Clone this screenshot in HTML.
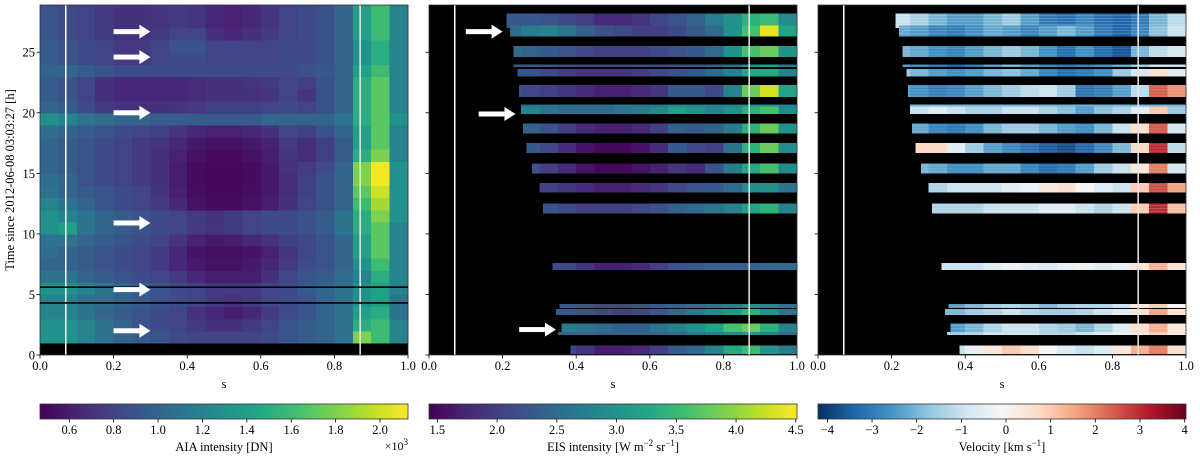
<!DOCTYPE html>
<html><head><meta charset="utf-8">
<style>
html,body{margin:0;padding:0;background:#fff;}
svg text{font-family:"Liberation Serif",serif;fill:#000;}
</style></head>
<body>
<svg id="fig" xmlns="http://www.w3.org/2000/svg" width="1200" height="457" viewBox="0 0 1200 457"></svg>
<script>
// ---------- DATA ----------
const sColCenters = [0.025,0.075,0.125,0.175,0.225,0.275,0.325,0.375,0.425,0.475,0.525,0.575,0.625,0.675,0.725,0.775,0.825,0.875,0.925,0.975];
const xTicks = [0.0,0.2,0.4,0.6,0.8,1.0];
const yTicks = [0,5,10,15,20,25];
const aiaTicks = [0.6,0.8,1.0,1.2,1.4,1.6,1.8,2.0];
const eisTicks = [1.5,2.0,2.5,3.0,3.5,4.0,4.5];
const velTicks = [-4,-3,-2,-1,0,1,2,3,4];
// AIA intensity (x10^3 DN), one row per hour starting at h=1
const aiaRows = [
[1.3,1.3,1.2,1.1,1.0,0.95,0.9,0.85,0.8,0.8,0.8,0.8,0.85,0.9,0.95,1.0,1.1,1.8,1.6,1.2],
[1.3,1.3,1.2,1.1,1.0,0.9,0.85,0.8,0.75,0.7,0.7,0.75,0.8,0.9,0.95,1.0,1.1,1.5,1.6,1.2],
[1.2,1.2,1.1,1.0,0.95,0.9,0.85,0.8,0.7,0.65,0.6,0.65,0.75,0.85,0.9,1.0,1.1,1.4,1.5,1.1],
[1.2,1.2,1.1,1.05,1.0,0.95,0.9,0.85,0.8,0.75,0.7,0.75,0.8,0.85,0.9,1.0,1.1,1.3,1.4,1.1],
[1.3,1.3,1.2,1.1,1.0,0.95,0.9,0.85,0.8,0.75,0.75,0.75,0.8,0.85,0.95,1.0,1.1,1.3,1.4,1.2],
[1.1,1.1,1.0,0.95,0.9,0.85,0.8,0.75,0.65,0.6,0.6,0.6,0.7,0.8,0.9,0.95,1.05,1.2,1.5,1.2],
[1.0,1.0,0.95,0.9,0.85,0.8,0.75,0.65,0.58,0.55,0.55,0.58,0.65,0.75,0.85,0.9,1.0,1.3,1.6,1.2],
[1.05,1.0,0.95,0.9,0.85,0.8,0.75,0.65,0.56,0.53,0.53,0.56,0.62,0.72,0.82,0.9,1.0,1.4,1.7,1.2],
[1.1,1.1,1.0,0.95,0.9,0.85,0.8,0.72,0.62,0.58,0.6,0.65,0.7,0.78,0.82,0.9,1.0,1.4,1.7,1.2],
[1.3,1.4,1.1,1.0,0.95,0.9,0.85,0.8,0.75,0.72,0.75,0.8,0.85,0.85,0.88,0.95,1.1,1.5,1.7,1.2],
[1.3,1.2,1.1,1.0,0.95,0.9,0.85,0.8,0.75,0.7,0.75,0.8,0.85,0.85,0.88,0.95,1.1,1.5,1.8,1.3],
[1.2,1.1,1.0,0.9,0.85,0.8,0.75,0.65,0.55,0.52,0.52,0.55,0.6,0.7,0.8,0.88,1.0,1.6,1.9,1.3],
[1.1,1.0,0.95,0.9,0.85,0.8,0.72,0.62,0.53,0.5,0.5,0.53,0.58,0.68,0.78,0.88,1.0,1.7,2.0,1.3],
[1.05,1.0,0.9,0.85,0.8,0.75,0.7,0.6,0.52,0.5,0.5,0.52,0.58,0.68,0.78,0.88,1.0,1.8,2.1,1.3],
[1.0,0.95,0.9,0.85,0.8,0.75,0.7,0.6,0.52,0.5,0.5,0.52,0.58,0.7,0.76,0.85,1.0,1.8,2.1,1.3],
[1.0,0.95,0.9,0.85,0.8,0.75,0.7,0.62,0.55,0.52,0.52,0.55,0.6,0.72,0.68,0.78,0.95,1.5,1.8,1.2],
[1.0,0.95,0.9,0.85,0.8,0.75,0.72,0.65,0.58,0.55,0.55,0.58,0.62,0.75,0.68,0.78,0.95,1.4,1.7,1.2],
[1.05,1.0,0.95,0.9,0.85,0.8,0.78,0.72,0.65,0.62,0.62,0.65,0.7,0.8,0.78,0.88,1.0,1.4,1.7,1.2],
[1.3,1.2,1.1,1.05,1.0,1.0,0.95,0.95,0.95,0.95,0.95,0.95,1.0,1.0,1.0,1.0,1.1,1.5,1.7,1.3],
[1.0,0.95,0.85,0.75,0.7,0.7,0.7,0.72,0.75,0.78,0.78,0.78,0.8,0.85,0.8,0.88,1.0,1.5,1.7,1.2],
[0.95,0.9,0.8,0.7,0.65,0.65,0.65,0.65,0.68,0.7,0.7,0.7,0.72,0.8,0.72,0.88,1.0,1.5,1.7,1.2],
[0.95,0.9,0.8,0.7,0.65,0.65,0.65,0.65,0.68,0.7,0.7,0.72,0.75,0.8,0.78,0.88,1.0,1.5,1.7,1.2],
[1.0,1.0,0.95,0.9,0.85,0.85,0.85,0.85,0.85,0.85,0.85,0.85,0.85,0.85,0.88,0.92,1.0,1.4,1.6,1.2],
[0.95,0.9,0.85,0.8,0.75,0.75,0.8,0.85,0.85,0.8,0.8,0.8,0.8,0.85,0.85,0.88,1.0,1.3,1.5,1.2],
[0.95,0.9,0.85,0.8,0.75,0.75,0.8,0.9,0.9,0.8,0.8,0.8,0.8,0.85,0.85,0.88,1.0,1.3,1.5,1.2],
[0.9,0.85,0.8,0.75,0.7,0.7,0.75,0.8,0.8,0.7,0.65,0.7,0.75,0.8,0.85,0.88,1.0,1.4,1.6,1.2],
[0.9,0.85,0.8,0.75,0.7,0.7,0.72,0.75,0.72,0.65,0.62,0.65,0.72,0.8,0.85,0.88,1.0,1.4,1.6,1.2],
[0.9,0.85,0.8,0.75,0.7,0.7,0.72,0.75,0.72,0.65,0.62,0.65,0.72,0.8,0.85,0.88,1.0,1.4,1.6,1.2]
];
const aiaStartHour = 1;
// EIS raster bands (hours)
const bandTop   = [28.2,27.2,25.5,24.0,23.6,22.3,20.7,20.5,19.1,17.5,15.8,14.2,12.5,7.6,4.2,3.8,2.6,1.9,0.8];
const bandBot   = [27.0,26.3,24.6,23.8,23.0,21.3,20.5,19.9,18.3,16.7,15.0,13.4,11.7,7.0,3.9,3.3,1.9,1.65,0.1];
const bandStart = [0.21,0.22,0.23,0.23,0.24,0.245,0.25,0.25,0.255,0.265,0.28,0.30,0.31,0.335,0.355,0.345,0.36,0.35,0.385];
const eisBands = [
[2.3,2.3,2.3,2.3,2.3,2.3,2.2,2.1,2.0,1.8,1.8,1.9,2.1,2.2,2.4,2.7,3.0,3.4,3.5,2.9],
[2.5,2.5,2.5,2.5,2.5,2.7,2.8,2.6,2.4,2.2,2.1,2.0,2.0,2.1,2.3,2.5,3.0,3.6,4.4,3.2],
[2.5,2.5,2.5,2.5,2.5,2.4,2.3,2.2,2.1,2.0,2.0,2.0,2.1,2.2,2.3,2.5,3.0,3.6,3.8,3.0],
[2.3,2.3,2.3,2.3,2.3,2.3,2.2,2.1,2.1,2.1,2.1,2.1,2.1,2.2,2.3,2.4,2.6,3.0,3.2,2.7],
[2.3,2.3,2.3,2.3,2.3,2.2,2.1,2.0,1.9,1.9,1.9,2.0,2.1,2.2,2.3,2.5,2.8,3.3,3.3,2.8],
[2.2,2.2,2.2,2.2,2.2,2.1,2.0,1.9,1.8,1.7,1.7,1.8,1.9,2.3,2.3,2.1,2.8,3.8,4.3,3.2],
[2.5,2.5,2.5,2.5,2.5,2.5,2.5,2.5,2.5,2.5,2.6,2.6,2.6,2.7,2.7,2.7,2.7,2.9,3.0,2.7],
[3.0,3.0,3.0,3.0,3.0,2.8,2.6,2.5,2.5,2.5,2.6,2.7,2.9,3.2,3.0,2.8,3.0,3.4,3.6,2.9],
[2.5,2.5,2.5,2.5,2.5,2.4,2.2,2.0,1.8,1.7,1.7,1.8,2.0,2.4,2.3,2.4,2.7,3.4,3.8,3.0],
[2.4,2.4,2.4,2.4,2.4,2.3,2.1,1.8,1.6,1.5,1.5,1.6,1.8,2.3,2.1,2.0,2.6,3.4,3.8,2.9],
[2.2,2.2,2.2,2.2,2.2,2.2,2.0,1.8,1.6,1.5,1.5,1.6,1.7,1.9,1.8,2.2,2.7,3.3,3.6,2.9],
[2.1,2.1,2.1,2.1,2.1,2.1,2.0,1.9,1.8,1.7,1.7,1.8,1.9,2.1,2.2,2.3,2.5,2.9,3.0,2.6],
[2.2,2.2,2.2,2.2,2.2,2.2,2.2,2.1,2.0,2.0,2.0,2.1,2.2,2.4,2.5,2.6,2.8,3.2,3.4,2.8],
[2.1,2.1,2.1,2.1,2.1,2.1,2.1,2.1,1.9,1.7,1.7,1.8,2.0,2.2,2.3,2.4,2.4,2.4,2.5,2.5],
[2.3,2.3,2.3,2.3,2.3,2.3,2.3,2.3,2.2,2.1,2.1,2.2,2.3,2.4,2.5,2.6,2.8,3.0,2.9,2.6],
[2.3,2.3,2.3,2.3,2.3,2.3,2.3,2.3,2.2,2.1,2.0,2.1,2.3,2.5,2.7,2.9,3.1,3.4,3.0,2.6],
[2.7,2.7,2.7,2.7,2.7,2.7,2.7,2.7,2.6,2.5,2.4,2.4,2.6,2.8,3.0,3.2,3.6,3.8,3.4,2.8],
[2.4,2.4,2.4,2.4,2.4,2.4,2.4,2.4,2.4,2.4,2.4,2.4,2.4,2.5,2.6,2.7,2.9,3.0,2.8,2.5],
[2.1,2.1,2.1,2.1,2.1,2.1,2.1,2.1,1.9,1.7,1.7,1.8,2.0,2.3,2.5,2.8,3.3,3.5,3.0,2.7]
];
const velBands = [
[-1.0,-1.0,-1.0,-1.0,-1.0,-1.4,-2.0,-2.4,-2.4,-2.0,-1.6,-2.4,-3.0,-3.2,-2.8,-3.2,-3.4,-3.0,-2.0,-1.2],
[-2.2,-2.2,-2.2,-2.2,-2.2,-2.4,-2.8,-3.0,-2.6,-2.2,-2.4,-2.8,-2.4,-2.0,-2.4,-3.0,-3.4,-2.8,-1.8,-1.0],
[-2.0,-2.0,-2.0,-2.0,-2.0,-2.2,-2.6,-2.8,-2.4,-2.0,-1.6,-2.0,-2.6,-3.2,-2.6,-3.2,-3.6,-2.0,-1.2,-0.8],
[-2.4,-2.4,-2.4,-2.4,-2.4,-2.6,-3.0,-3.4,-3.0,-2.4,-2.0,-2.4,-2.8,-3.0,-2.8,-2.6,-2.2,-1.6,-1.0,-1.0],
[-1.6,-1.6,-1.6,-1.6,-1.6,-2.0,-2.4,-2.6,-2.4,-2.0,-1.8,-2.2,-2.8,-3.2,-3.0,-2.6,-1.6,-0.8,0.6,-0.6],
[-2.4,-2.4,-2.4,-2.4,-2.4,-2.6,-3.0,-2.8,-2.4,-2.0,-1.6,-1.2,-1.0,-1.6,-3.2,-3.0,-2.4,-1.2,2.4,1.8],
[-2.0,-2.0,-2.0,-2.0,-2.0,-2.0,-2.0,-2.0,-2.0,-2.0,-2.0,-2.0,-2.0,-2.0,-2.0,-2.0,-2.0,-2.0,-2.0,-2.0],
[-1.4,-1.4,-1.4,-1.4,-1.4,-1.0,-0.6,-1.0,-1.4,-1.4,-1.0,-1.0,-1.4,-1.8,-2.4,-1.8,-1.4,-0.6,1.0,-1.6],
[-2.0,-2.0,-2.0,-2.0,-2.0,-2.2,-2.8,-3.0,-2.6,-2.0,-1.6,-1.6,-2.0,-2.4,-2.6,-2.0,-1.0,0.6,2.4,-0.8],
[-0.8,-0.8,-0.8,-0.8,-0.8,0.8,0.8,-0.6,-1.6,-2.4,-2.8,-3.2,-3.6,-3.8,-3.4,-2.8,-2.0,0.8,3.0,-1.2],
[-2.0,-2.0,-2.0,-2.0,-2.0,-2.0,-2.2,-2.6,-2.6,-2.2,-2.2,-2.8,-3.2,-3.0,-2.4,-1.6,-1.0,0.4,2.0,-0.8],
[-1.6,-1.6,-1.6,-1.6,-1.6,-1.6,-1.4,-1.0,-1.0,-1.0,-0.6,-0.4,0.4,0.6,0.0,-0.6,-1.0,1.0,2.6,1.6],
[-1.6,-1.6,-1.6,-1.6,-1.6,-1.6,-1.4,-1.4,-1.4,-1.0,-1.0,-1.0,-0.6,-0.6,-1.0,-1.4,-1.0,1.0,3.0,1.2],
[-1.0,-1.0,-1.0,-1.0,-1.0,-1.0,-1.0,-1.0,-1.0,-0.6,-0.4,-0.6,-0.8,-0.5,-0.4,-0.6,-0.4,0.5,1.4,0.5],
[-2.4,-2.4,-2.4,-2.4,-2.4,-2.4,-2.4,-2.4,-2.0,-1.6,-1.4,-1.6,-2.0,-1.6,-1.4,-1.4,-1.0,0.4,1.0,0.0],
[-2.0,-2.0,-2.0,-2.0,-2.0,-2.0,-2.0,-2.0,-1.6,-1.4,-1.0,-1.4,-1.6,-1.6,-1.4,-1.0,-0.6,0.6,1.6,0.6],
[-2.4,-2.4,-2.4,-2.4,-2.4,-2.4,-2.4,-2.4,-2.0,-1.4,-1.0,-1.0,-1.4,-1.6,-2.0,-1.4,-0.6,0.6,1.4,0.4],
[-1.6,-1.6,-1.6,-1.6,-1.6,-1.6,-1.6,-1.6,-1.4,-1.0,-1.0,-1.0,-1.4,-1.4,-1.0,-0.6,-0.4,0.4,1.0,0.4],
[-1.0,-1.0,-1.0,-1.0,-1.0,-1.0,-1.0,-1.0,-0.4,0.4,1.0,0.6,0.0,-0.6,-1.0,-0.6,0.4,1.4,2.0,0.6]
];
const aiaArrowHours = [26.7,24.6,20.0,10.9,5.4,2.0];
const eisArrowHours = [26.7,19.9,2.1];
const eisArrowTipS = [0.2,0.235,0.345];
const blackLineHours = [5.6,4.3];
const vLineS = [0.07,0.87];

// ---------- HELPERS ----------
const NS = "http://www.w3.org/2000/svg";
const svg = document.getElementById('fig');
function el(tag, attrs, parent){ const e=document.createElementNS(NS,tag); for(const k in attrs) e.setAttribute(k,attrs[k]); (parent||svg).appendChild(e); return e; }
const VIR=["#440154","#482475","#414487","#355f8d","#2a788e","#21918c","#22a884","#44bf70","#7ad151","#bddf26","#fde725"];
const RDBU=["#053061","#2166ac","#4393c3","#92c5de","#d1e5f0","#f7f7f7","#fddbc7","#f4a582","#d6604d","#b2182b","#67001f"];
function hex(h){return [parseInt(h.slice(1,3),16),parseInt(h.slice(3,5),16),parseInt(h.slice(5,7),16)];}
function cmap(stops,t){ t=Math.max(0,Math.min(1,t)); const p=t*(stops.length-1); const i=Math.min(stops.length-2,Math.floor(p)); const f=p-i; const a=hex(stops[i]),b=hex(stops[i+1]); return `rgb(${a.map((v,k)=>Math.round(v+(b[k]-v)*f)).join(',')})`; }
const AIA_MIN=0.468, AIA_MAX=2.126, EIS_MIN=1.43, EIS_MAX=4.51, VEL_MIN=-4.21, VEL_MAX=4.03;
const PX=[40,429,818], PW=368, PTOP=5, PBOT=355, HMAX=28.9;
const sx=(p,s)=>PX[p]+s*PW;
const hy=h=>PBOT-(h/HMAX)*(PBOT-PTOP);
const colW=0.05;

// ---------- PANELS ----------
for(let p=0;p<3;p++){
  const g=el('g',{});
  
  
  el('rect',{x:PX[p],y:PTOP,width:PW,height:PBOT-PTOP,fill:'#000'},g);
  const cells=el('g',{'shape-rendering':'crispEdges'},g);
  if(p===0){
    aiaRows.forEach((row,r)=>{ const h0=aiaStartHour+r, h1=Math.min(HMAX,h0+1);
      row.forEach((v,c)=>{ const s0=sColCenters[c]-colW/2;
        const rc=el('rect',{x:sx(0,s0),y:hy(h1),width:colW*PW+0.6,height:hy(h0)-hy(h1)+0.6,fill:cmap(VIR,(v-AIA_MIN)/(AIA_MAX-AIA_MIN))},cells);
        
        
      });});
  } else {
    const data = p===1?eisBands:velBands;
    data.forEach((row,b)=>{
      row.forEach((v,c)=>{ let s0=sColCenters[c]-colW/2, s1=s0+colW; if(s1<=bandStart[b]) return; s0=Math.max(s0,bandStart[b]);
        const fill = p===1?cmap(VIR,(v-EIS_MIN)/(EIS_MAX-EIS_MIN)):cmap(RDBU,(v-VEL_MIN)/(VEL_MAX-VEL_MIN));
        const rc=el('rect',{x:sx(p,s0),y:hy(bandTop[b]),width:(s1-s0)*PW+0.6,height:hy(bandBot[b])-hy(bandTop[b]),fill:fill},cells);
        
        
      });
      if(p===2){
        const y0=hy(bandTop[b]), y1=hy(bandBot[b]);
        for(let y=y0+2;y<y1-1;y+=3){ el('line',{x1:sx(p,bandStart[b]),x2:sx(p,1),y1:y,y2:y,stroke:'rgba(255,255,255,0.18)','stroke-width':0.8},cells); }
      }
    });
  }
  vLineS.forEach((s,i)=>{ const ln=el('line',{x1:sx(p,s),x2:sx(p,s),y1:PTOP,y2:PBOT,stroke:i===0?'#fff':'#e8e8e8','stroke-width':1.5},g);
      });
  el('rect',{x:PX[p],y:PTOP,width:PW,height:PBOT-PTOP,fill:'none',stroke:'#333','stroke-width':0.8},g);
  xTicks.forEach(t=>{ el('line',{x1:sx(p,t),x2:sx(p,t),y1:PBOT,y2:PBOT+3.5,stroke:'#000','stroke-width':0.8},g);
    const tx=el('text',{x:sx(p,t),y:PBOT+15,'font-size':12.5,'text-anchor':'middle'},g); tx.textContent=t.toFixed(1);
      });
  const xl=el('text',{x:PX[p]+PW/2,y:PBOT+33,'font-size':12.5,'text-anchor':'middle'},g); xl.textContent='s';
   
  yTicks.forEach(t=>{ el('line',{x1:PX[p]-3.5,x2:PX[p],y1:hy(t),y2:hy(t),stroke:'#000','stroke-width':0.8},g);
    if(p===0){ const ty=el('text',{x:PX[p]-5,y:hy(t)+4.5,'font-size':12.5,'text-anchor':'end'},g); ty.textContent=t;
        } });
}
blackLineHours.forEach(h=>{ const ln=el('line',{x1:PX[0],x2:PX[0]+PW,y1:hy(h),y2:hy(h),stroke:'#000','stroke-width':1.6});
    });
function arrow(x0,x1,y){ const g=el('g',{});  
  el('rect',{x:x0,y:y-2.5,width:(x1-x0)-10,height:5,fill:'#fff'},g);
  el('polygon',{points:`${x1-11},${y-7} ${x1},${y} ${x1-11},${y+7}`,fill:'#fff'},g); }
aiaArrowHours.forEach(h=>arrow(sx(0,0.2),sx(0,0.3),hy(h)));
eisArrowHours.forEach((h,i)=>arrow(sx(1,eisArrowTipS[i]-0.1),sx(1,eisArrowTipS[i]),hy(h)));
const yt=el('text',{x:0,y:0,'font-size':12.5,'text-anchor':'middle',transform:`translate(14,${(PTOP+PBOT)/2}) rotate(-90)`});
yt.textContent='Time since 2012-06-08 03:03:27 [h]';
 

// ---------- COLORBARS ----------
const CB_Y=404, CB_H=15;
function colorbar(p,stops,vmin,vmax,ticks,fmt,label,name){
  const g=el('g',{});  
  const id='grad'+p; const lg=el('linearGradient',{id:id,x1:0,x2:1,y1:0,y2:0},el('defs',{},g));
  stops.forEach((c,i)=>el('stop',{offset:i/(stops.length-1),'stop-color':c},lg));
  el('rect',{x:PX[p],y:CB_Y,width:PW,height:CB_H,fill:`url(#${id})`,stroke:'#333','stroke-width':0.8},g);
  ticks.forEach(t=>{ const x=PX[p]+(t-vmin)/(vmax-vmin)*PW;
    el('line',{x1:x,x2:x,y1:CB_Y+CB_H,y2:CB_Y+CB_H+3.5,stroke:'#000','stroke-width':0.8},g);
    const tx=el('text',{x:x,y:CB_Y+CB_H+15,'font-size':12.5,'text-anchor':'middle'},g); tx.textContent=fmt(t);
      });
  const lt=el('text',{x:PX[p]+PW/2,y:CB_Y+CB_H+32,'font-size':12.5,'text-anchor':'middle'},g); lt.innerHTML=label;
   
}
colorbar(0,VIR,AIA_MIN,AIA_MAX,aiaTicks,t=>t.toFixed(1),'AIA intensity [DN]','aia-colorbar');
colorbar(1,VIR,EIS_MIN,EIS_MAX,eisTicks,t=>t.toFixed(1),'EIS intensity [W m<tspan dy="-5" font-size="9">−2</tspan><tspan dy="5"> sr</tspan><tspan dy="-5" font-size="9">−1</tspan><tspan dy="5">]</tspan>','eis-colorbar');
colorbar(2,RDBU,VEL_MIN,VEL_MAX,velTicks,t=>t<0?'−'+Math.abs(t):String(t),'Velocity [km s<tspan dy="-5" font-size="9">−1</tspan><tspan dy="5">]</tspan>','velocity-colorbar');
const ex=el('text',{x:PX[0]+PW,y:CB_Y+CB_H+31,'font-size':12,'text-anchor':'end'});
ex.innerHTML='×10<tspan dy="-5" font-size="9">3</tspan>';
 
</script>
</body></html>
